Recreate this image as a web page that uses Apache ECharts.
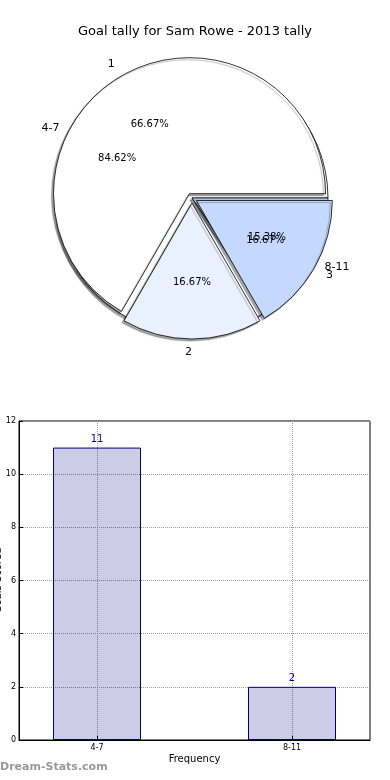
<!DOCTYPE html>
<html><head><meta charset="utf-8">
<script src="https://cdn.jsdelivr.net/npm/echarts@6/dist/echarts.min.js"></script>
<style>html,body{margin:0;padding:0;background:#fff}#c{width:390px;height:780px}</style>
</head><body><div id="c"></div>
<script>
const titleText = 'Goal tally for Sam Rowe - 2013 tally';
const pieANames = ['1', '2', '3'];
const pieAValues = [4, 1, 1];
const categories = ['4-7', '8-11'];
const tallyValues = [11, 2];
const xAxisName = 'Frequency';
const yAxisName = 'Goals Scored';
const watermark = 'Dream-Stats.com';

const pieAColors = ['#ffffff', '#eaf1fe', '#c5d9fe'];
const pieBColors = ['#ffffff', '#c5d9fe'];
const FONT = 'DejaVu Sans';
const C = [192, 198];
const R = 136;

const chart = echarts.init(document.getElementById('c'), null, {renderer: 'canvas'});

function pieData(names, values, colors, selected) {
  return names.map((n, i) => ({
    name: n, value: values[i], selected: selected,
    itemStyle: {color: colors[i]}
  }));
}
const common = {
  type: 'pie', center: C, startAngle: 0, clockwise: false,
  avoidLabelOverlap: false, animation: false,
  labelLayout: {hideOverlap: false},
  emphasis: {disabled: true}
};
const sliceStyle = {
  borderColor: '#000', borderWidth: 0.8,
  shadowColor: 'rgba(0,0,0,0.35)', shadowBlur: 1, shadowOffsetX: -2, shadowOffsetY: 2
};
const nameLabel = {
  show: true, position: 'outside', color: '#000', fontFamily: FONT, fontSize: 11,
  distanceToLabelLine: 0, alignTo: 'none', formatter: '{b}'
};
function helper(names, values, z) {
  const sum = values.reduce((a, b) => a + b, 0);
  return Object.assign({}, common, {
    radius: [0, R * 1.2], z: z, silent: true,
    data: names.map((n, i) => ({name: n, value: values[i]})),
    itemStyle: {color: 'rgba(0,0,0,0)', borderWidth: 0},
    label: {
      show: true, position: 'inside', color: '#000', fontFamily: FONT, fontSize: 10,
      formatter: p => (p.value / sum * 100).toFixed(2) + '%'
    },
    labelLine: {show: false}
  });
}

const axisFont = {fontFamily: FONT, fontSize: 8, color: '#000'};
const option = {
  backgroundColor: '#fff',
  animation: false,
  title: {
    text: titleText, left: 'center', top: 20,
    textStyle: {fontFamily: FONT, fontSize: 13, fontWeight: 'normal', color: '#000'}
  },
  grid: [
    {left: 19, top: 421, width: 351, height: 319, show: true, containLabel: false,
     outerBoundsMode: 'none',
     borderColor: '#000', borderWidth: 1, backgroundColor: 'transparent'},
    {left: -0.5, top: 421, width: 390, height: 319, show: false, containLabel: false,
     outerBoundsMode: 'none'}
  ],
  xAxis: [{
    gridIndex: 0, type: 'value', min: -0.4, max: 1.4,
    axisLine: {show: true, onZero: false, lineStyle: {color: '#000'}},
    axisTick: {show: true, inside: true, length: 4, customValues: [0, 1], lineStyle: {color: '#000'}},
    axisLabel: Object.assign({customValues: [0, 1], formatter: v => categories[Math.round(v)], margin: 4}, axisFont),
    splitLine: {show: true, lineStyle: {type: 'dotted', color: '#9a9a9a'}},
    name: xAxisName, nameLocation: 'middle', nameGap: 14,
    nameTextStyle: {fontFamily: FONT, fontSize: 10, color: '#000'}
  }, {
    gridIndex: 1, type: 'category', data: categories, boundaryGap: true,
    axisLine: {show: false}, axisTick: {show: false}, axisLabel: {show: false}, splitLine: {show: false}
  }],
  yAxis: [{
    gridIndex: 0, type: 'value', min: 0, max: 12, interval: 2,
    axisLine: {show: true, onZero: false, lineStyle: {color: '#000'}},
    axisTick: {show: true, inside: true, length: 4, lineStyle: {color: '#000'}},
    axisLabel: Object.assign({margin: 3}, axisFont),
    splitLine: {show: true, lineStyle: {type: 'dotted', color: '#9a9a9a'}},
    name: yAxisName, nameLocation: 'middle', nameGap: 16, nameMoveOverlap: false,
    nameTextStyle: {fontFamily: FONT, fontSize: 10, color: '#000'}
  }, {
    gridIndex: 1, type: 'value', min: 0, max: 12, interval: 2,
    axisLine: {show: false}, axisTick: {show: false}, axisLabel: {show: false}, splitLine: {show: false}
  }],
  graphic: [{
    type: 'text', left: 0, top: 762,
    style: {text: watermark, fontFamily: FONT, fontSize: 11, fontWeight: 'bold', fill: '#999'}
  }],
  series: [
    Object.assign({}, common, {
      radius: [0, R], z: 1, selectedMode: false,
      data: pieData(categories, tallyValues, pieBColors, false),
      itemStyle: sliceStyle,
      label: nameLabel, labelLine: {show: false, length: R * 0.1, length2: 0}
    }),
    Object.assign({}, common, {
      radius: [0, R], z: 2, selectedMode: 'multiple', selectedOffset: 5,
      data: pieData(pieANames, pieAValues, pieAColors, true),
      itemStyle: sliceStyle,
      label: nameLabel, labelLine: {show: false, length: R * 0.1, length2: 0}
    }),
    helper(categories, tallyValues, 3),
    helper(pieANames, pieAValues, 4),
    {
      type: 'bar', animation: false, xAxisIndex: 1, yAxisIndex: 1,
      data: tallyValues,
      barWidth: 88,
      itemStyle: {color: 'rgba(0,0,128,0.2)', borderColor: '#000080', borderWidth: 1},
      label: {show: true, position: 'top', color: '#000080', fontFamily: FONT, fontSize: 10, distance: 3},
      emphasis: {disabled: true}
    }
  ]
};
chart.setOption(option);
</script></body></html>
